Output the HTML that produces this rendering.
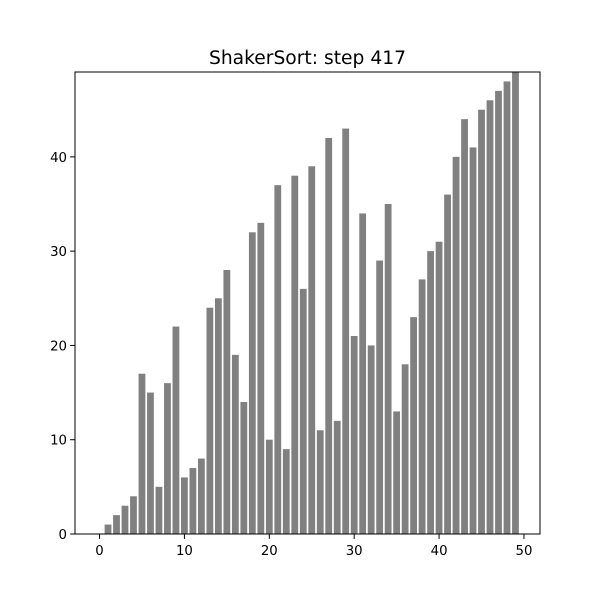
<!DOCTYPE html>
<html><head><meta charset="utf-8"><style>
html,body{margin:0;padding:0;background:#fff;}
svg text{font-family:"DejaVu Sans","Liberation Sans",sans-serif;}
</style></head><body>
<svg id="chart" width="600" height="600" xmlns="http://www.w3.org/2000/svg">
<rect width="600" height="600" fill="#fff"/>
<text x="307.5" y="64" text-anchor="middle" font-size="18.7px" fill="#000">ShakerSort: step 417</text>
<g id="bars"></g>
<rect x="75" y="72" width="465" height="462" fill="none" stroke="#000" stroke-width="1"/>
<g id="ticks"></g>
</svg>
<script>
const values = [0,1,2,3,4,17,15,5,16,22,6,7,8,24,25,28,19,14,32,33,10,37,9,38,26,39,11,42,12,43,21,34,20,29,35,13,18,23,27,30,31,36,40,44,41,45,46,47,48,49];
const xTicks = [0,10,20,30,40,50];
const yTicks = [0,10,20,30,40];
const X0=75,X1=540,Y0=534,Y1=72;
const xmin=-2.89,xmax=51.89,ymin=0,ymax=49;
function sx(v){return X0+(v-xmin)/(xmax-xmin)*(X1-X0);}
function sy(v){return Y0-(v-ymin)/(ymax-ymin)*(Y0-Y1);}
const NS="http://www.w3.org/2000/svg";
const bars=document.getElementById('bars');
values.forEach((v,i)=>{
  const r=document.createElementNS(NS,'rect');
  
  
  const yt=sy(Math.min(v,ymax));
  r.setAttribute('x',sx(i-0.4));
  r.setAttribute('width',sx(i+0.4)-sx(i-0.4));
  r.setAttribute('y',yt);
  r.setAttribute('height',Y0-yt);
  r.setAttribute('fill','#808080');
  bars.appendChild(r);
});
const tg=document.getElementById('ticks');
xTicks.forEach(t=>{
  const x=sx(t);
  const l=document.createElementNS(NS,'line');
  
  
  l.setAttribute('x1',x);l.setAttribute('x2',x);l.setAttribute('y1',Y0);l.setAttribute('y2',Y0+4.9);
  l.setAttribute('stroke','#000');
  tg.appendChild(l);
  const tx=document.createElementNS(NS,'text');
  
  
  tx.setAttribute('x',x);tx.setAttribute('y',Y0+21);
  tx.setAttribute('text-anchor','middle');tx.setAttribute('font-size','13.3px');
  tx.textContent=t;
  tg.appendChild(tx);
});
yTicks.forEach(t=>{
  const y=sy(t);
  const l=document.createElementNS(NS,'line');
  
  
  l.setAttribute('x1',X0-4.9);l.setAttribute('x2',X0);l.setAttribute('y1',y);l.setAttribute('y2',y);
  l.setAttribute('stroke','#000');
  tg.appendChild(l);
  const tx=document.createElementNS(NS,'text');
  
  
  tx.setAttribute('x',X0-8);tx.setAttribute('y',y+5);
  tx.setAttribute('text-anchor','end');tx.setAttribute('font-size','13.3px');
  tx.textContent=t;
  tg.appendChild(tx);
});
</script>
</body></html>
